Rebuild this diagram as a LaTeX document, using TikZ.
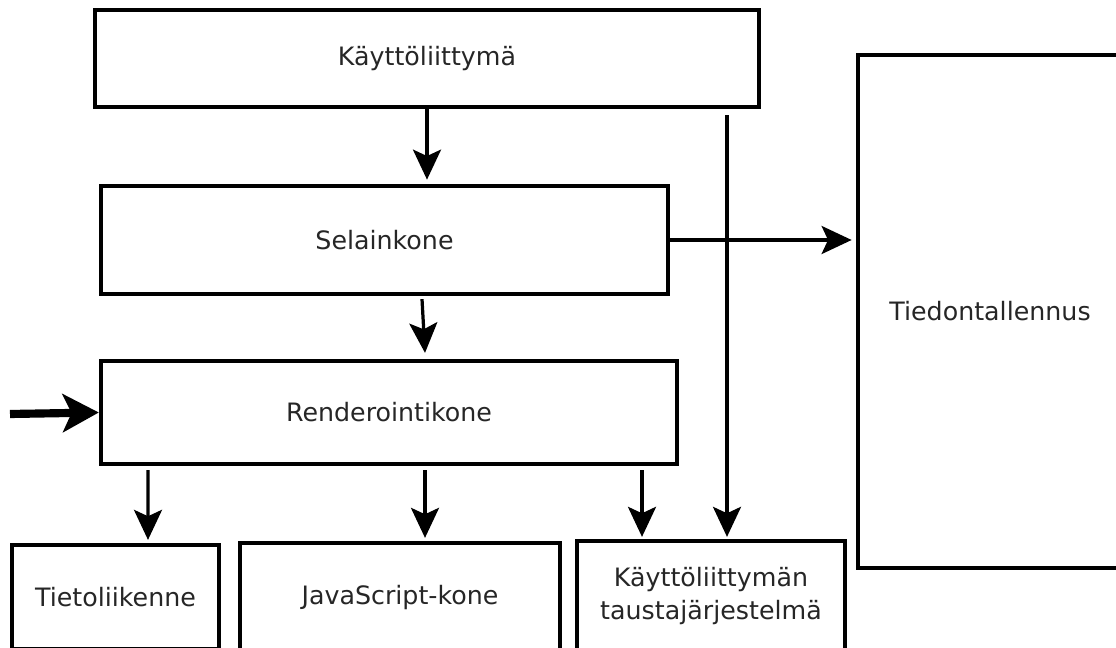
\documentclass[tikz,border=0pt]{standalone}
\usepackage{fontspec}
\setmainfont{DejaVu Sans}
\usetikzlibrary{arrows.meta,calc}

\begin{document}
\begin{tikzpicture}[x=0.025cm,y=-0.025cm,
		box/.style={draw,line width=3pt,text=black!85,inner sep=0pt,align=center,
			font=\fontsize{18}{24}\selectfont},
		arr/.style={line width=2.3pt,-{Stealth[length=0.75cm,width=0.7cm,inset=0.16cm]}},
		bigarr/.style={line width=5.8pt,-{Stealth[length=0.9cm,width=0.95cm,inset=0.22cm]}}]
			\useasboundingbox (0,0) rectangle (1116,648);
			\clip (0,0) rectangle (1116,648);
			% layers
			\node[box,minimum width=16.6cm,minimum height=2.425cm] (kl) at (427,58.5) {Käyttöliittymä};
			\node[box,minimum width=14.175cm,minimum height=2.7cm] (sk) at (384.5,240) {Selainkone};
			\node[box,minimum width=14.4cm,minimum height=2.575cm] (rk) at (389,412.5) {Renderointikone};
			\node[box,minimum width=5.175cm,minimum height=2.6cm] (tl) at (115.5,597) {Tietoliikenne};
			\node[box,minimum width=8cm,minimum height=2.75cm] (js) at (400,598) {JavaScript-kone};
			\node[box,minimum width=6.7cm,minimum height=2.75cm] (kt) at (711,596) {Käyttöliittymän\\taustajärjestelmä};
			\node[box,minimum width=6.6cm,minimum height=12.825cm] (td) at (990,311.5) {Tiedontallennus};
			\coordinate (in) at (10,414);
			% connectors
			\draw[arr,shorten >=3] (kl.south) -- (kl.south |- sk.north);
			\draw[arr] ($(sk.south)+(37.5,3)$) -- ($(rk.north)+(36,-6)$);
			\draw[arr,shorten >=3] (sk.east) -- (sk.east -| td.west);
			\draw[arr] ($(kl.south)+(300,6)$) -- ($(kt.north)+(16,-2)$);
			\draw[bigarr] (in) -- (rk.west);
			\draw[arr] ($(rk.south)+(-241,4)$) -- ($(tl.north)+(32.5,-3)$);
			\draw[arr] ($(rk.south)+(36,4)$) -- ($(js.north)+(25,-3)$);
			\draw[arr] ($(rk.south)+(253,4)$) -- ($(kt.north)+(-69,-2)$);
		\end{tikzpicture}
\end{document}
